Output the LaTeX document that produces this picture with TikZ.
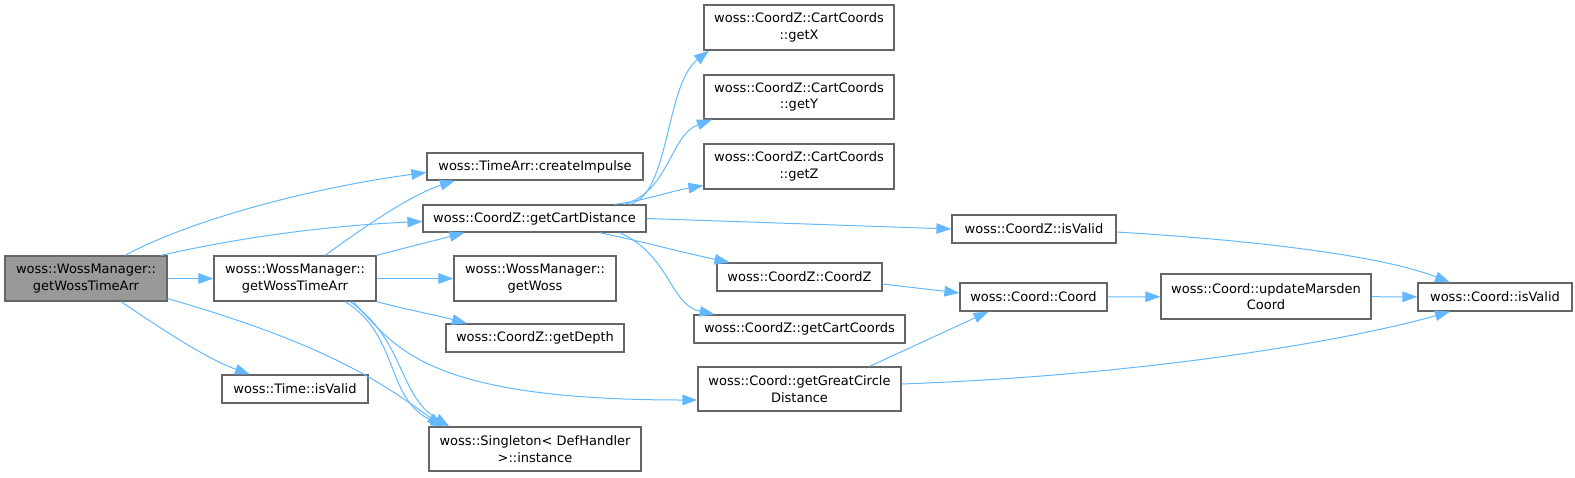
\documentclass[tikz,border=0pt]{standalone}
\usepackage{fontspec}
\setmainfont{DejaVu Sans}
\usetikzlibrary{arrows.meta}
\definecolor{edgeblue}{HTML}{63B8FF}
\definecolor{boxgray}{HTML}{666666}
\definecolor{mainfill}{HTML}{999999}

\begin{document}
\begin{tikzpicture}[x=1pt, y=-1pt, >={Triangle[length=15pt,width=10.5pt]},
  fn/.style={draw=boxgray, line width=1.2pt, fill=white, inner sep=0, align=center, font=\fontsize{13}{16.5}\selectfont},
  call/.style={edgeblue, line width=1pt, ->}]
\useasboundingbox (0,0) rectangle (1575,477);

\node[fn, fill=mainfill, minimum width=162, minimum height=45] (caller) at (86,278.5) {woss::WossManager::\\getWossTimeArr};
\node[fn, minimum width=162, minimum height=45] (wossTime) at (295,278.5) {woss::WossManager::\\getWossTimeArr};
\node[fn, minimum width=146, minimum height=28] (timeValid) at (295,389) {woss::Time::isValid};
\node[fn, minimum width=216, minimum height=27] (createImpulse) at (535,166.5) {woss::TimeArr::createImpulse};
\node[fn, minimum width=223, minimum height=27] (cartDistance) at (534.5,218.5) {woss::CoordZ::getCartDistance};
\node[fn, minimum width=162, minimum height=45] (getWoss) at (535,278.5) {woss::WossManager::\\getWoss};
\node[fn, minimum width=178, minimum height=28] (getDepth) at (535,338) {woss::CoordZ::getDepth};
\node[fn, minimum width=212, minimum height=44] (instance) at (535,449) {woss::Singleton< DefHandler\\>::instance};
\node[fn, minimum width=190, minimum height=45] (getX) at (799,27.5) {woss::CoordZ::CartCoords\\::getX};
\node[fn, minimum width=190, minimum height=44] (getY) at (799,97) {woss::CoordZ::CartCoords\\::getY};
\node[fn, minimum width=190, minimum height=45] (getZ) at (799,166.5) {woss::CoordZ::CartCoords\\::getZ};
\node[fn, minimum width=165, minimum height=28] (coordZ) at (799.5,277) {woss::CoordZ::CoordZ};
\node[fn, minimum width=211, minimum height=28] (cartCoords) at (799.5,329) {woss::CoordZ::getCartCoords};
\node[fn, minimum width=203, minimum height=44] (greatCircle) at (799.5,389) {woss::Coord::getGreatCircle\\Distance};
\node[fn, minimum width=164, minimum height=28] (coordZValid) at (1034,229) {woss::CoordZ::isValid};
\node[fn, minimum width=147, minimum height=28] (coord) at (1033.5,297) {woss::Coord::Coord};
\node[fn, minimum width=210, minimum height=45] (marsden) at (1266,296.5) {woss::Coord::updateMarsden\\Coord};
\node[fn, minimum width=154, minimum height=28] (coordValid) at (1495,297) {woss::Coord::isValid};

\draw[call] ([xshift=39]caller.north) .. controls (200,215) and (330,185) .. ([yshift=-6]createImpulse.west);
\draw[call] ([xshift=75]caller.north) .. controls (250,235) and (340,225) .. ([yshift=-3]cartDistance.west);
\draw[call] (caller) -- (wossTime);
\draw[call] ([yshift=3]caller.south east) .. controls (330,345) and (385,385) .. ([xshift=14]instance.north west);
\draw[call] ([xshift=35]caller.south) .. controls (170,335) and (210,360) .. ([xshift=-45]timeValid.north);

\draw[call] ([xshift=30]wossTime.north) .. controls (360,230) and (410,195) .. ([xshift=-80]createImpulse.south);
\draw[call] (wossTime.north east) to[out=15,in=195] ([xshift=-70]cartDistance.south);
\draw[call] (wossTime) -- (getWoss);
\draw[call] (wossTime.south east) to[out=-15,in=165] ([xshift=-68]getDepth.north);
\draw[call] ([xshift=50]wossTime.south) .. controls (400,335) and (385,400) .. ([xshift=17]instance.north west);
\draw[call] ([xshift=55]wossTime.south) .. controls (405,340) and (398,395) .. ([xshift=21]instance.north west);
\draw[call] ([xshift=58]wossTime.south) .. controls (395,345) and (420,400) .. ([yshift=-11]greatCircle.west);

\draw[call] ([xshift=95]cartDistance.north) .. controls (670,195) and (665,85) .. ([xshift=-90]getX.south);
\draw[call] ([xshift=90]cartDistance.north) .. controls (670,190) and (670,135) .. ([xshift=-87]getY.south);
\draw[call] ([xshift=80]cartDistance.north) to[out=8,in=190] ([yshift=-19]getZ.west);
\draw[call] (cartDistance.east) -- (coordZValid.west);
\draw[call] ([xshift=65]cartDistance.south) to[out=-12,in=168] ([xshift=-70]coordZ.north);
\draw[call] ([xshift=85]cartDistance.south) .. controls (670,255) and (670,305) .. ([xshift=-85]cartCoords.north);

\draw[call] ([yshift=-3]coordZValid.east) .. controls (1250,240) and (1380,255) .. ([xshift=-45]coordValid.north);
\draw[call] ([yshift=-7]coordZ.east) -- ([yshift=4]coord.west);
\draw[call] (coord) -- (marsden);
\draw[call] (marsden) -- (coordValid);
\draw[call] ([xshift=70]greatCircle.north) -- ([xshift=-45]coord.south);
\draw[call] ([yshift=5]greatCircle.east) .. controls (1150,375) and (1350,340) .. ([xshift=-45]coordValid.south);
\end{tikzpicture}
\end{document}
